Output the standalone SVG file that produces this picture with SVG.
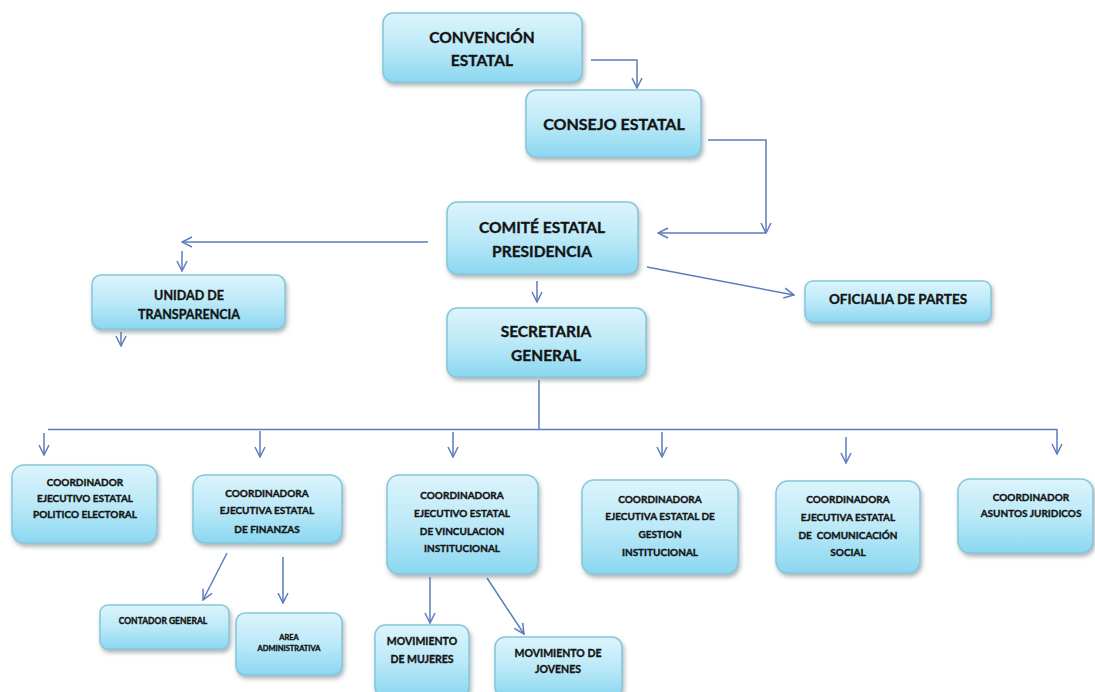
<svg xmlns="http://www.w3.org/2000/svg" width="1095" height="692" viewBox="0 0 1095 692">
<defs>
<linearGradient id="g" x1="0" y1="0" x2="0" y2="1">
<stop offset="0" stop-color="#dcf4fc"/>
<stop offset="0.5" stop-color="#bce9f8"/>
<stop offset="1" stop-color="#8ad7f0"/>
</linearGradient>
<filter id="sh" x="-10%" y="-10%" width="125%" height="135%">
<feDropShadow dx="1.5" dy="3" stdDeviation="2" flood-color="#6a7a80" flood-opacity="0.55"/>
</filter>
<marker id="a" viewBox="0 0 12 12" refX="11" refY="6" markerWidth="12" markerHeight="12" markerUnits="userSpaceOnUse" orient="auto">
<path d="M1,1 L11,6 L1,11" fill="none" stroke="#5a7dbf" stroke-width="1.5"/>
</marker>
<style>
.b{fill:url(#g);stroke:#86c6db;stroke-width:1.5;filter:url(#sh)}
.t{font-family:Lato,"Open Sans","Liberation Sans",sans-serif;font-weight:bold;fill:#141414;stroke:#141414;stroke-width:0.35;text-anchor:middle}
.c{fill:none;stroke:#5a7dbf;stroke-width:1.5}
.ca{fill:none;stroke:#5a7dbf;stroke-width:1.5;marker-end:url(#a)}
</style>
</defs>
<rect width="1095" height="692" fill="#ffffff"/>
<g id="connectors">
<polyline class="ca" points="591,60 637,60 637,88"/>
<polyline class="ca" points="708,140 766,140 766,233"/>
<line class="ca" x1="766" y1="233" x2="658" y2="233"/>
<line class="ca" x1="428" y1="242" x2="182" y2="242"/>
<line class="ca" x1="182" y1="251" x2="182" y2="271"/>
<line class="ca" x1="121" y1="332" x2="121" y2="346"/>
<line class="ca" x1="537" y1="281" x2="537" y2="302"/>
<line class="ca" x1="647" y1="267" x2="794" y2="295"/>
<polyline class="c" points="539,380 539,429"/>
<line class="c" x1="48" y1="429.5" x2="1057" y2="429.5"/>
<line class="ca" x1="44" y1="433" x2="44" y2="455"/>
<line class="ca" x1="260" y1="431" x2="260" y2="457"/>
<line class="ca" x1="453" y1="432" x2="453" y2="457"/>
<line class="ca" x1="662" y1="432" x2="662" y2="457"/>
<line class="ca" x1="846" y1="437" x2="846" y2="463"/>
<line class="ca" x1="1057" y1="429" x2="1057" y2="454"/>
<line class="ca" x1="227" y1="553" x2="203" y2="600"/>
<line class="ca" x1="283" y1="557" x2="283" y2="603"/>
<line class="ca" x1="430" y1="577" x2="430" y2="623"/>
<line class="ca" x1="487" y1="578" x2="524" y2="634"/>
</g>
<g id="convencion"><rect class="b" x="383" y="13" width="199" height="69" rx="10"/>
<text class="t" font-size="15.5" x="482" y="43">CONVENCIÓN</text><text class="t" font-size="15.5" x="482" y="66">ESTATAL</text></g>
<g id="consejo"><rect class="b" x="526" y="90" width="175" height="67" rx="10"/>
<text class="t" font-size="16" x="614" y="130">CONSEJO ESTATAL</text></g>
<g id="comite"><rect class="b" x="447" y="202" width="191" height="72" rx="10"/>
<text class="t" font-size="15.5" x="542" y="233">COMITÉ ESTATAL</text><text class="t" font-size="15.5" x="542" y="257">PRESIDENCIA</text></g>
<g id="unidad"><rect class="b" x="92" y="275" width="193" height="54" rx="9"/>
<text class="t" font-size="12.5" x="189" y="300">UNIDAD DE</text><text class="t" font-size="12.5" x="189" y="319">TRANSPARENCIA</text></g>
<g id="oficialia"><rect class="b" x="805" y="281" width="186" height="41" rx="8"/>
<text class="t" font-size="13.5" x="898" y="304">OFICIALIA DE PARTES</text></g>
<g id="secretaria"><rect class="b" x="447" y="308" width="199" height="69" rx="10"/>
<text class="t" font-size="15.5" x="546" y="337">SECRETARIA</text><text class="t" font-size="15.5" x="546" y="361">GENERAL</text></g>
<g id="politico"><rect class="b" x="12" y="465" width="145" height="78" rx="12"/>
<text class="t" font-size="10" x="85" y="486">COORDINADOR</text><text class="t" font-size="10" x="85" y="502">EJECUTIVO ESTATAL</text><text class="t" font-size="10" x="85" y="518">POLITICO ELECTORAL</text></g>
<g id="finanzas"><rect class="b" x="193" y="475" width="149" height="68" rx="12"/>
<text class="t" font-size="10" x="267" y="497">COORDINADORA</text><text class="t" font-size="10" x="267" y="514">EJECUTIVA ESTATAL</text><text class="t" font-size="10" x="267" y="533">DE FINANZAS</text></g>
<g id="vinculacion"><rect class="b" x="387" y="475" width="151" height="99" rx="12"/>
<text class="t" font-size="10" x="462" y="499">COORDINADORA</text><text class="t" font-size="10" x="462" y="517">EJECUTIVO ESTATAL</text><text class="t" font-size="10" x="462" y="535">DE VINCULACION</text><text class="t" font-size="10" x="462" y="552">INSTITUCIONAL</text></g>
<g id="gestion"><rect class="b" x="582" y="480" width="156" height="94" rx="12"/>
<text class="t" font-size="10" x="660" y="503">COORDINADORA</text><text class="t" font-size="10" x="660" y="520">EJECUTIVA ESTATAL DE</text><text class="t" font-size="10" x="660" y="538">GESTION</text><text class="t" font-size="10" x="660" y="556">INSTITUCIONAL</text></g>
<g id="comunicacion"><rect class="b" x="776" y="481" width="144" height="92" rx="12"/>
<text class="t" font-size="10" x="848" y="503">COORDINADORA</text><text class="t" font-size="10" x="848" y="521">EJECUTIVA ESTATAL</text><text class="t" font-size="10" x="848" y="539" xml:space="preserve">DE  COMUNICACIÓN</text><text class="t" font-size="10" x="848" y="556">SOCIAL</text></g>
<g id="juridicos"><rect class="b" x="958" y="479" width="135" height="74" rx="12"/>
<text class="t" font-size="10" x="1031" y="501">COORDINADOR</text><text class="t" font-size="10" x="1031" y="517">ASUNTOS JURIDICOS</text></g>
<g id="contador"><rect class="b" x="100" y="605" width="129" height="44" rx="8"/>
<text class="t" font-size="8.5" x="163" y="624">CONTADOR GENERAL</text></g>
<g id="area"><rect class="b" x="236" y="613" width="106" height="62" rx="9"/>
<text class="t" font-size="7.5" x="289" y="640">AREA</text><text class="t" font-size="7.5" x="289" y="651">ADMINISTRATIVA</text></g>
<g id="mujeres"><rect class="b" x="375" y="625" width="94" height="72" rx="10"/>
<text class="t" font-size="10.5" x="422" y="645">MOVIMIENTO</text><text class="t" font-size="10.5" x="422" y="663">DE MUJERES</text></g>
<g id="jovenes"><rect class="b" x="495" y="637" width="127" height="60" rx="10"/>
<text class="t" font-size="10.5" x="558" y="657">MOVIMIENTO DE</text><text class="t" font-size="10.5" x="558" y="673">JOVENES</text></g>
</svg>
